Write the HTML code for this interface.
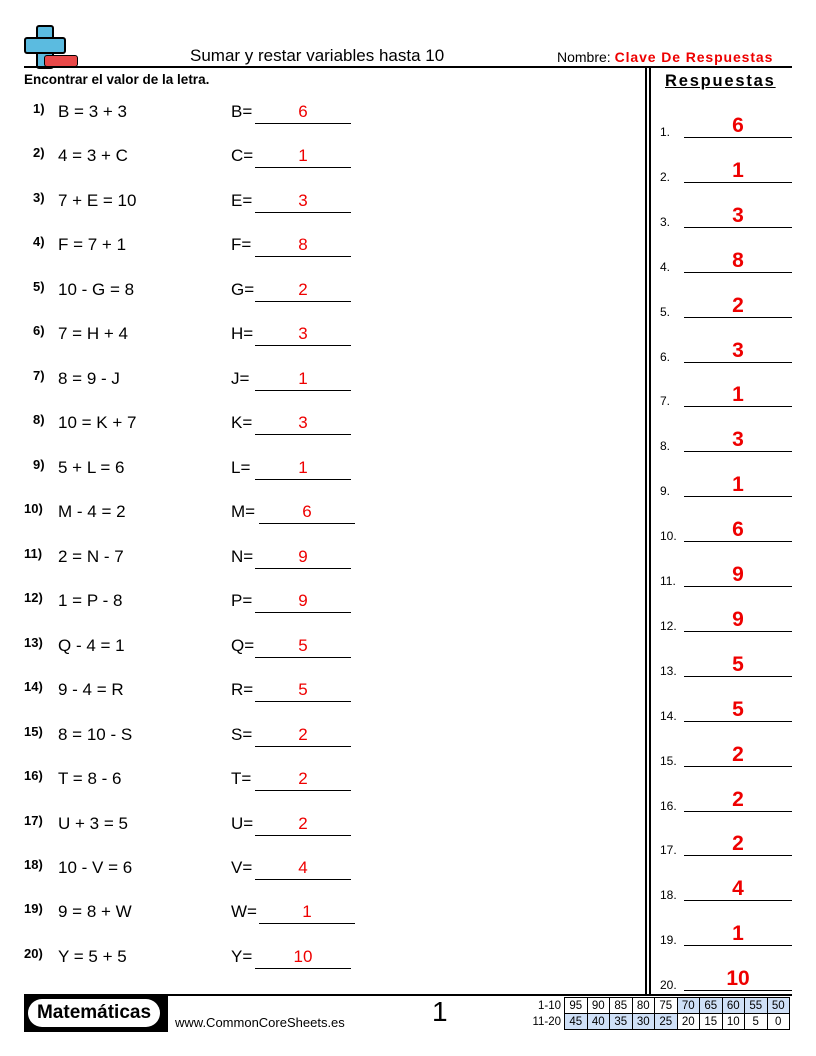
<!DOCTYPE html>
<html><head><meta charset="utf-8"><style>
body{margin:0;width:816px;height:1056px;position:relative;background:#fff;font-family:"Liberation Sans",sans-serif;color:#000;overflow:hidden}
.a{position:absolute;white-space:nowrap}
.n{font-size:13px;font-weight:bold}
.p{font-size:17px}
.r{color:#e00}
.ln{position:absolute;border-bottom:1.3px solid #000;}
table{border-collapse:collapse;font-size:11.5px}
td{border:1px solid #000;width:21.5px;height:15px;text-align:center;padding:0}
td.b{background:#cfe0f7}
td.l{border:none;text-align:right;padding-right:3px;width:34px}
</style></head><body>
<!-- logo -->
<div class="a" style="left:36px;top:25px;width:14px;height:40px;background:#5bbbe0;border:2px solid #000;border-radius:3px"></div>
<div class="a" style="left:24px;top:37px;width:38px;height:13px;background:#5bbbe0;border:2px solid #000;border-radius:3px"></div>
<div class="a" style="left:44px;top:55px;width:32px;height:10px;background:#e84848;border:1.5px solid #000;border-radius:3px"></div>
<div class="a" style="left:190px;top:46px;font-size:17px">Sumar y restar variables hasta 10</div>
<div class="a" style="left:557px;top:49px;font-size:14px">Nombre: <b class="r" style="letter-spacing:0.9px">Clave De Respuestas</b></div>
<div class="a" style="left:24px;top:66px;width:768px;height:2px;background:#000"></div>
<div class="a" style="left:24px;top:72px;font-size:13.5px;font-weight:bold">Encontrar el valor de la letra.</div>
<div class="a" style="left:645px;top:68px;width:1.5px;height:928px;background:#000"></div>
<div class="a" style="left:649px;top:68px;width:1.5px;height:928px;background:#000"></div>
<div class="a" style="left:665px;top:72px;font-size:16.5px;font-weight:bold;letter-spacing:1.8px;text-decoration:underline">Respuestas</div>
<div id="rows"></div>
<div class="a" style="left:24px;top:994px;width:768px;height:2px;background:#000"></div>
<div class="a" style="left:24px;top:996px;width:144px;height:36px;background:#000"></div>
<div class="a" style="left:28px;top:999px;width:132px;height:28px;background:#fff;border-radius:14px;font-size:19px;font-weight:bold;text-align:center;line-height:28px">Matemáticas</div>
<div class="a" style="left:175px;top:1015px;font-size:13px">www.CommonCoreSheets.es</div>
<div class="a" style="left:432px;top:996px;font-size:28px">1</div>
<table class="a" style="left:527px;top:997px">
<tr><td class="l">1-10</td><td>95</td><td>90</td><td>85</td><td>80</td><td>75</td><td class="b">70</td><td class="b">65</td><td class="b">60</td><td class="b">55</td><td class="b">50</td></tr>
<tr><td class="l">11-20</td><td class="b">45</td><td class="b">40</td><td class="b">35</td><td class="b">30</td><td class="b">25</td><td>20</td><td>15</td><td>10</td><td>5</td><td>0</td></tr>
</table>
<script>
var d=[["B = 3 + 3","B","6"],["4 = 3 + C","C","1"],["7 + E = 10","E","3"],["F = 7 + 1","F","8"],["10 - G = 8","G","2"],["7 = H + 4","H","3"],["8 = 9 - J","J","1"],["10 = K + 7","K","3"],["5 + L = 6","L","1"],["M - 4 = 2","M","6"],["2 = N - 7","N","9"],["1 = P - 8","P","9"],["Q - 4 = 1","Q","5"],["9 - 4 = R","R","5"],["8 = 10 - S","S","2"],["T = 8 - 6","T","2"],["U + 3 = 5","U","2"],["10 - V = 6","V","4"],["9 = 8 + W","W","1"],["Y = 5 + 5","Y","10"]];
var h="";
d.forEach(function(r,i){
var y=102+i*44.47, ya=116+i*44.9;
var w=(r[1]=="M"||r[1]=="W")?28:24;
h+='<div class="a n" style="left:'+(i<9?33:24)+'px;top:'+(y-1)+'px">'+(i+1)+')</div>';
h+='<div class="a p" style="left:58px;top:'+y+'px">'+r[0]+'</div>';
h+='<div class="a p" style="left:231px;top:'+y+'px">'+r[1]+'=</div>';
h+='<div class="ln" style="left:'+(231+w)+'px;top:'+(y+21)+'px;width:96px"></div>';
h+='<div class="a p r" style="left:'+(231+w)+'px;top:'+y+'px;width:96px;text-align:center">'+r[2]+'</div>';
h+='<div class="a" style="left:660px;top:'+(ya+9)+'px;font-size:12px">'+(i+1)+'.</div>';
h+='<div class="ln" style="left:684px;top:'+(ya+21)+'px;width:108px"></div>';
h+='<div class="a r" style="left:684px;top:'+(ya-2)+'px;width:108px;text-align:center;font-size:21px;font-weight:bold">'+r[2]+'</div>';
});
document.getElementById("rows").outerHTML=h;
</script>
</body></html>
